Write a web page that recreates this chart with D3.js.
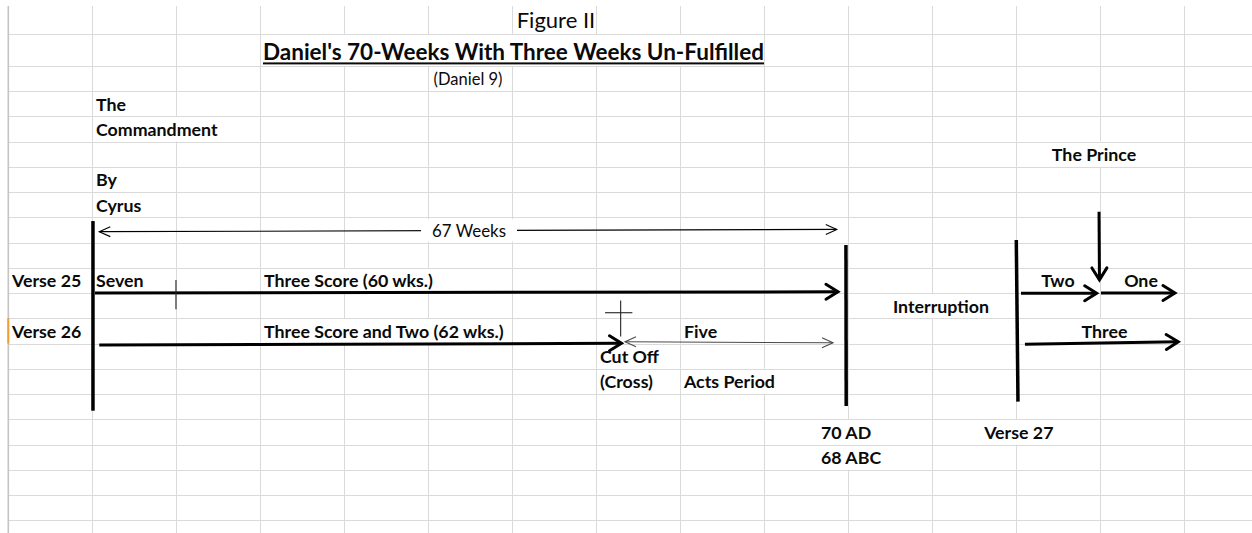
<!DOCTYPE html>
<html><head><meta charset="utf-8">
<script src="https://cdn.jsdelivr.net/npm/d3@7"></script>
<style>body{margin:0;background:#fff}svg{display:block}</style>
</head><body><svg id="c" width="1252" height="533"></svg>
<script>
// ---------- DATA (grid units: col = sheet column index, row = sheet row index) ----------
const labels = [
  {text:"Figure II", col:6.52, row:0},
  {text:"Daniel's 70-Weeks With Three Weeks Un-Fulfilled", col:6.014, row:1},
  {text:"(Daniel 9)", col:5.473, row:2},
  {text:"The", col:1.044, row:3},
  {text:"Commandment", col:1.044, row:4},
  {text:"The Prince", col:12.925, row:5},
  {text:"By", col:1.044, row:6},
  {text:"Cyrus", col:1.044, row:7},
  {text:"67 Weeks", col:5.485, row:8},
  {text:"Verse 25", col:0.044, row:10},
  {text:"Seven", col:1.044, row:10},
  {text:"Three Score (60 wks.)", col:3.044, row:10},
  {text:"Two", col:12.496, row:10},
  {text:"One", col:13.485, row:10},
  {text:"Interruption", col:11.103, row:11},
  {text:"Verse 26", col:0.044, row:12},
  {text:"Three Score and Two (62 wks.)", col:3.044, row:12},
  {text:"Five", col:8.044, row:12},
  {text:"Three", col:13.05, row:12},
  {text:"Cut Off", col:7.044, row:13},
  {text:"(Cross)", col:7.044, row:14},
  {text:"Acts Period", col:8.044, row:14},
  {text:"70 AD", col:9.675, row:16},
  {text:"Verse 27", col:12.03, row:16},
  {text:"68 ABC", col:9.675, row:17}
];
const centredLabels = ["Figure II","Daniel's 70-Weeks With Three Weeks Un-Fulfilled","(Daniel 9)","The Prince","67 Weeks","Two","One","Interruption","Three","Verse 27"];

const timeBars = [      // vertical period boundaries
  {col:1.008, col2:1.008, from:8.15, to:15.66},
  {col:9.972, col2:9.975, from:9.10, to:15.47},
  {col:12.0,  col2:12.02, from:8.90, to:15.30}
];
const heavyArrows = [   // head at the second point
  {name:"Three Score (60 wks.)", c1:1.032, r1:11.0,  c2:9.877, r2:10.95},
  {name:"Three Score and Two",   c1:1.083, r1:13.06, c2:7.30,  r2:12.99},
  {name:"Two",                   c1:12.056,r1:11.01, c2:12.957,r2:11.01},
  {name:"One",                   c1:13.008,r1:11.0,  c2:13.889,r2:11.0},
  {name:"Three",                 c1:12.103,r1:13.03, c2:13.928,r2:12.93},
  {name:"The Prince",            c1:12.985,r1:7.78,  c2:12.99, r2:10.48}
];
const spanArrows = [    // thin, heads at both ends
  {name:"67 Weeks", c1:1.083, r1:8.57,  c2:9.863, r2:8.48},
  {name:"Five",     c1:7.342, r1:12.93, c2:9.818, r2:12.97}
];
const thinMarks = [
  {c1:1.996, r1:10.48, c2:1.996, r2:11.64},
  {c1:7.29,  r1:11.30, c2:7.29,  r2:12.72},
  {c1:7.104, r1:11.78, c2:7.429, r2:11.78}
];

// ---------- SCALES ----------
const W = 1252, H = 533, NCOL = 14, NROW = 21;
const x = d3.scaleLinear().domain([0, 14]).range([8.3, 1184.3]);
const y = d3.scaleLinear().domain([0, 1, 2, 3, 20]).range([6, 34, 66, 91, 520.3]);

const svg = d3.select("#c");
const gGrid = svg.append("g");
const gMarks = svg.append("g");
const gText = svg.append("g");

function styleFor(t){
  if (t === "Figure II") return {size:22, weight:400};
  if (t.startsWith("Daniel's")) return {size:22.5, weight:700};
  if (t === "(Daniel 9)") return {size:16.5, weight:400};
  if (t === "67 Weeks") return {size:16.9, weight:400};
  return {size:17.8, weight:700};
}

// ---------- TEXT ----------
const texts = gText.selectAll("text").data(labels).join("text")
  .attr("x", d => x(d.col))
  .attr("y", d => y(d.row + 1) - 5.7)
  .attr("text-anchor", d => centredLabels.includes(d.text) ? "middle" : "start")
  .attr("font-family", "Lato, 'Open Sans', sans-serif")
  .attr("font-size", d => styleFor(d.text).size)
  .attr("font-weight", d => styleFor(d.text).weight)
  .attr("fill", "#0a0a0a")
  .text(d => d.text);

// bounding boxes for overflow-gap logic
const boxes = [];
texts.each(function(d){ const b = this.getBBox(); boxes.push({d, b}); });

// title underline
boxes.filter(o => o.d.text.startsWith("Daniel's")).forEach(o => {
  gText.append("rect").attr("x", o.b.x).attr("y", y(2) - 3.6)
    .attr("width", o.b.width).attr("height", 2).attr("fill", "#0a0a0a");
});

// ---------- GRID ----------
const gaps = new Set();
boxes.forEach(o => {
  if (o.d.text === "67 Weeks") return;
  for (let k = 0; k <= NCOL; k++) {
    const gx = x(k);
    if (gx > o.b.x + 1 && gx < o.b.x + o.b.width - 1) gaps.add(k + "_" + o.d.row);
  }
});
for (let r = 1; r <= 20; r++) {
  gGrid.append("line").attr("x1", x(0)).attr("x2", W).attr("y1", Math.round(y(r)) + 0.5).attr("y2", Math.round(y(r)) + 0.5)
    .attr("stroke", "#dadada").attr("stroke-width", 1);
}
for (let k = 1; k <= NCOL; k++) {
  for (let r = 0; r < NROW; r++) {
    if (gaps.has(k + "_" + r)) continue;
    gGrid.append("line").attr("x1", Math.round(x(k)) + 0.5).attr("x2", Math.round(x(k)) + 0.5)
      .attr("y1", y(r)).attr("y2", Math.min(H, y(r + 1)))
      .attr("stroke", "#dadada").attr("stroke-width", 1);
  }
}
gGrid.append("line").attr("x1", x(0)).attr("x2", x(0)).attr("y1", y(0)).attr("y2", H)
  .attr("stroke", "#c4c4c4").attr("stroke-width", 1.6);
gGrid.append("rect").attr("x", x(0) - 1).attr("y", y(12)).attr("width", 2).attr("height", y(13) - y(12))
  .attr("fill", "#f0a030");

// ---------- MARKS ----------
function chevron(x1, y1, x2, y2, len, half){
  const a = Math.atan2(y2 - y1, x2 - x1), ux = Math.cos(a), uy = Math.sin(a);
  const bx = x2 - ux * len, by = y2 - uy * len;
  return `M${bx - uy * half},${by + ux * half}L${x2},${y2}L${bx + uy * half},${by - ux * half}`;
}

timeBars.forEach(b => {
  gMarks.append("line").attr("x1", x(b.col)).attr("x2", x(b.col2))
    .attr("y1", y(b.from)).attr("y2", y(b.to))
    .attr("stroke", "#000").attr("stroke-width", 3.5);
});

heavyArrows.forEach(a => {
  const X1 = x(a.c1), Y1 = y(a.r1), X2 = x(a.c2), Y2 = y(a.r2);
  gMarks.append("line").attr("x1", X1).attr("y1", Y1).attr("x2", X2 - (X2 - X1) * 0.004).attr("y2", Y2)
    .attr("stroke", "#000").attr("stroke-width", 3);
  gMarks.append("path").attr("d", chevron(X1, Y1, X2, Y2, 12, 7.5))
    .attr("fill", "none").attr("stroke", "#000").attr("stroke-width", 3)
    .attr("stroke-linejoin", "miter").attr("stroke-linecap", "round");
});

spanArrows.forEach(a => {
  const X1 = x(a.c1), Y1 = y(a.r1), X2 = x(a.c2), Y2 = y(a.r2);
  const col = a.name === "Five" ? "#4a4a4a" : "#000";
  gMarks.append("line").attr("x1", X1).attr("y1", Y1).attr("x2", X2).attr("y2", Y2)
    .attr("stroke", col).attr("stroke-width", 1.1);
  gMarks.append("path").attr("d", chevron(X1, Y1, X2, Y2, 11, 5))
    .attr("fill", "none").attr("stroke", col).attr("stroke-width", 1.1);
  gMarks.append("path").attr("d", chevron(X2, Y2, X1, Y1, 11, 5))
    .attr("fill", "none").attr("stroke", col).attr("stroke-width", 1.1);
});

// white text box behind "67 Weeks"
boxes.filter(o => o.d.text === "67 Weeks").forEach(o => {
  gMarks.append("rect").attr("x", o.b.x - 11).attr("y", y(o.d.row) + 2)
    .attr("width", o.b.width + 22).attr("height", y(o.d.row + 1) - y(o.d.row) - 3)
    .attr("fill", "#fff");
});

thinMarks.forEach(m => {
  gMarks.append("line").attr("x1", x(m.c1)).attr("y1", y(m.r1)).attr("x2", x(m.c2)).attr("y2", y(m.r2))
    .attr("stroke", "#222").attr("stroke-width", 1.1);
});
</script>
</body></html>
